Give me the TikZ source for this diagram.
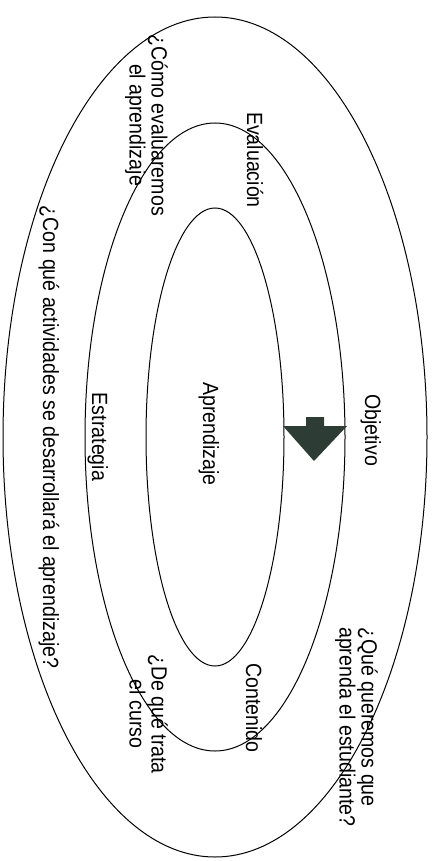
\documentclass[tikz,border=0pt]{standalone}
\usepackage{fontspec}
\setmainfont{Liberation Sans}
\definecolor{arrowgreen}{RGB}{45,60,52}
\usetikzlibrary{positioning}

\begin{document}
\begin{tikzpicture}[x=1pt, y=-1pt,
  ring/.style={line width=1pt},
  lbl/.style={rotate=-90, xscale=0.89, font=\fontsize{22}{22}\selectfont, inner sep=0pt, anchor=base},
  qlbl/.style={lbl, align=center, anchor=north}]
  \useasboundingbox (0,0) rectangle (434,861);
  % Rings
  \foreach \rx/\ry in {212/420, 130/314, 69/229}
    \draw[ring] (215,437) ellipse [x radius=\rx, y radius=\ry];
  % Arrow
  \fill[arrowgreen] (306,417) -- (324,417) -- (324,426) -- (347,426) -- (314,461)
    -- (283,426) -- (306,426) -- cycle;
  % Inner labels (at baseline)
  \node[lbl] (apr) at (203,434) {Aprendizaje};
  \node[lbl] (obj) at (365,430) {Objetivo};
  \node[lbl] (est) at (92,437) {Estrategia};
  \node[lbl] (eva) at (247,160) {Evaluación};
  \node[lbl] (con) at (246,708) {Contenido};
  % Questions
  \node[qlbl] (qeva) at (168,125) {¿Cómo evaluaremos\\el aprendizaje};
  \node[qlbl, align=left, anchor=north west] (qobj) at (378,627) {¿Qué queremos que\\aprenda el estudiante?};
  \node[qlbl] (qcon) at (168,714) {¿De qué trata\\el curso};
  \node[lbl] (qest) at (43,437) {¿Con qué actividades se desarrollará el aprendizaje?};
\end{tikzpicture}
\end{document}
